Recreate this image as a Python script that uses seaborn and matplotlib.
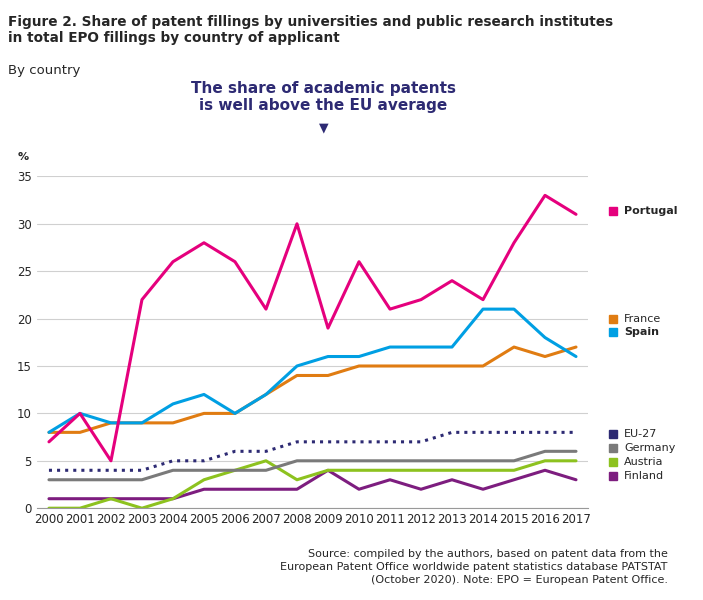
import matplotlib
matplotlib.use("Agg")
import matplotlib.pyplot as plt
import seaborn as sns
import pandas as pd

years = list(range(2000, 2018))
portugal = [7, 10, 5, 22, 26, 28, 26, 21, 30, 19, 26, 21, 22, 24, 22, 28, 33, 31]
spain = [8, 10, 9, 9, 11, 12, 10, 12, 15, 16, 16, 17, 17, 17, 21, 21, 18, 16]
france = [8, 8, 9, 9, 9, 10, 10, 12, 14, 14, 15, 15, 15, 15, 15, 17, 16, 17]
eu27 = [4, 4, 4, 4, 5, 5, 6, 6, 7, 7, 7, 7, 7, 8, 8, 8, 8, 8]
germany = [3, 3, 3, 3, 4, 4, 4, 4, 5, 5, 5, 5, 5, 5, 5, 5, 6, 6]
austria = [0, 0, 1, 0, 1, 3, 4, 5, 3, 4, 4, 4, 4, 4, 4, 4, 5, 5]
finland = [1, 1, 1, 1, 1, 2, 2, 2, 2, 4, 2, 3, 2, 3, 2, 3, 4, 3]

series = {"Finland": finland, "Austria": austria, "Germany": germany, "EU-27": eu27,
          "France": france, "Spain": spain, "Portugal": portugal}
colors = {"Portugal": "#e5007d", "Spain": "#009fe3", "France": "#e07c12",
          "EU-27": "#2d2a73", "Germany": "#7a7a7a", "Austria": "#8dc21f", "Finland": "#7d1d7f"}

df = pd.DataFrame([(y, k, v) for k, vals in series.items() for y, v in zip(years, vals)],
                  columns=["year", "country", "value"])

sns.set_style("white")
plt.rcParams['font.family'] = ['DejaVu Sans']
fig = plt.figure(figsize=(7.03, 6), dpi=100)
ax = fig.add_axes([0.052, 0.153, 0.785, 0.553])
for name in series:
    sub = df[df.country == name]
    sns.lineplot(data=sub, x="year", y="value", ax=ax, color=colors[name], lw=2.2,
                 linestyle=":" if name == "EU-27" else "-", legend=False)
ax.set_ylim(0, 35)
ax.set_xlim(1999.6, 2017.4)
ax.set_yticks(range(0, 36, 5))
ax.set_xticks(years)
ax.tick_params(labelsize=8.5, length=0)
ax.grid(axis="y", color="#d0d0d0", lw=0.8)
for s in ["top", "right", "left"]:
    ax.spines[s].set_visible(False)
ax.spines["bottom"].set_color("#999999")
ax.set_xlabel(""); ax.set_ylabel("")
ax.text(-0.035, 1.05, "%", transform=ax.transAxes, fontsize=8, fontweight="bold")

labels = [("Portugal", 31.4, True), ("France", 20.0, False), ("Spain", 18.6, True),
          ("EU-27", 7.8, False), ("Germany", 6.3, False), ("Austria", 4.85, False), ("Finland", 3.4, False)]
for name, yv, bold in labels:
    ax.plot([1.045], [yv], marker="s", ms=6, color=colors[name], transform=ax.get_yaxis_transform(), clip_on=False)
    ax.text(1.065, yv, name, transform=ax.get_yaxis_transform(), va="center", fontsize=8,
            fontweight="bold" if bold else "normal")

fig.text(0.012, 0.975, "Figure 2. Share of patent fillings by universities and public research institutes\nin total EPO fillings by country of applicant",
         fontsize=9.8, fontweight="bold", va="top", linespacing=1.2)
fig.text(0.012, 0.893, "By country", fontsize=9.5, va="top")
fig.text(0.46, 0.865, "The share of academic patents\nis well above the EU average", fontsize=11,
         fontweight="bold", color="#2d2a73", ha="center", va="top", linespacing=1.2)
fig.text(0.46, 0.797, "▼", fontsize=9, color="#2d2a73", ha="center", va="top")
fig.text(0.95, 0.085, "Source: compiled by the authors, based on patent data from the\nEuropean Patent Office worldwide patent statistics database PATSTAT\n(October 2020). Note: EPO = European Patent Office.",
         fontsize=8, ha="right", va="top", linespacing=1.4)
fig.savefig("out.png", dpi=100)
